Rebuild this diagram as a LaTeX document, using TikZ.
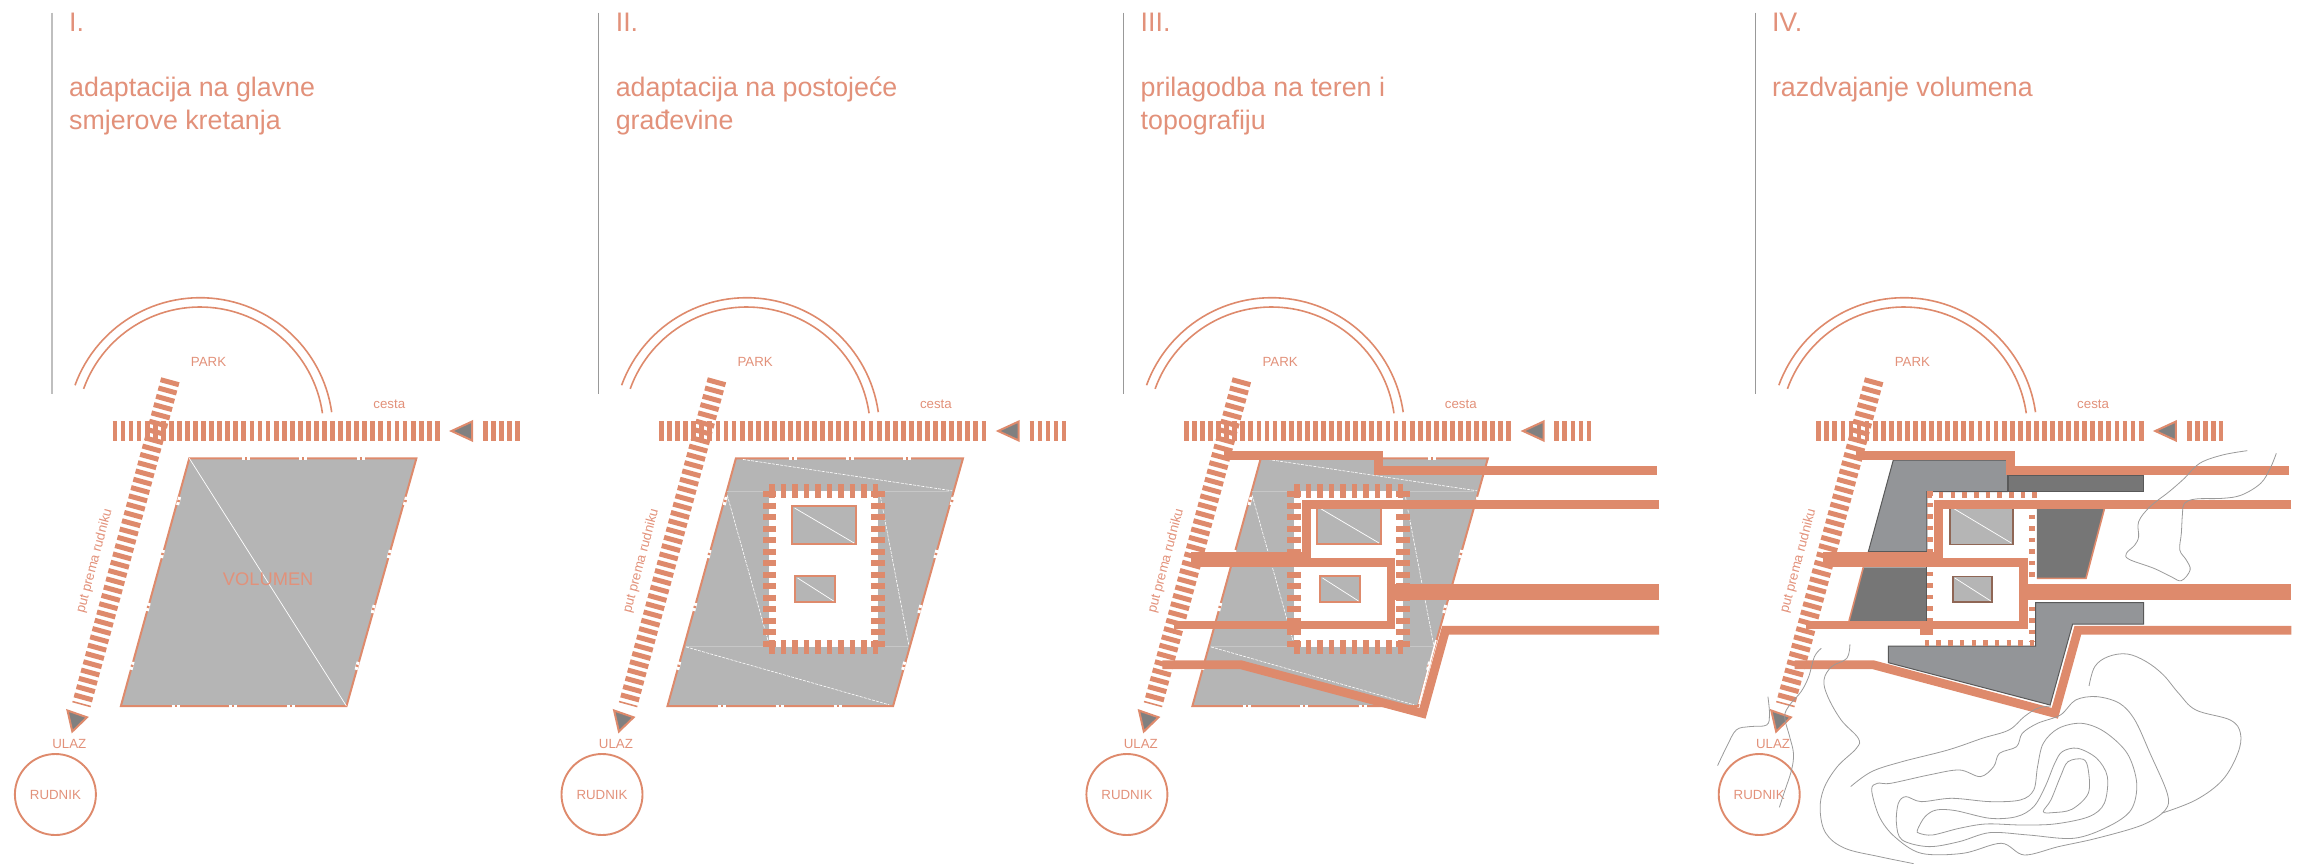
\documentclass[tikz,border=0pt]{standalone}
\usepackage{fontspec}
\setmainfont{Liberation Sans}
\definecolor{sal}{HTML}{DE8A6C}
\definecolor{saltx}{HTML}{E2917A}
\definecolor{gfill}{HTML}{B5B5B5}
\definecolor{gdark}{HTML}{767676}
\definecolor{gmid}{HTML}{939598}
\definecolor{gtip}{HTML}{808080}
\definecolor{gbrd}{HTML}{8F6655}
\definecolor{cont}{HTML}{9A9A9A}
\tikzset{
  ttl/.style={anchor=base west,align=left,text=saltx,font=\fontsize{26.8}{33}\selectfont,inner sep=0pt},
  lbl/.style={text=saltx,font=\fontsize{13.3}{15}\selectfont,inner sep=0pt},
  roadh/.style={sal,line width=20.5pt,dash pattern=on 4.8pt off 3.26pt},
  roadd/.style={sal,line width=19pt,dash pattern=on 5pt off 3.6pt},
  tip/.style={fill=gtip,draw=sal,line width=2pt,line join=miter},
  arcl/.style={sal,line width=1.6pt},
  vlnA/.style={draw=black!25,line width=1.6pt},
  vln/.style={draw=black!40,line width=.9pt},
  plane/.style={fill=gfill,draw=sal,line width=2pt,line join=miter},
  gap/.style={white,line width=3pt},
  pip/.style={sal,line width=2.6pt},
  wdash/.style={white,line width=.6pt,dash pattern=on 3pt off 1.2pt},
  faint/.style={black!22,line width=.7pt},
  ringw/.style={sal,line width=13.5pt,dash pattern=on 6pt off 5.5pt},
  ringt/.style={sal,line width=14pt,dash pattern=on 5.3pt off 6.2pt},
  ringn/.style={sal,line width=6pt,dash pattern=on 4.5pt off 7pt},
  roomA/.style={fill=gfill,draw=sal,line width=2pt},
  roomB/.style={fill=gfill,draw=gbrd,line width=1.6pt},
  wl/.style={white,line width=.7pt},
  tw/.style={sal,line join=miter},
  vmass/.style={fill=gmid,draw=black!65,line width=1pt,line join=miter},
  dmass/.style={fill=gdark},
  hill/.style={cont,line width=.8pt},
}
% common site: suffix
\newcommand{\sitebase}[1]{%
  \draw[arcl] plot[domain=8:160,samples=60] ({200+133*cos(\x)},{430.7-133*sin(\x)});
  \draw[arcl] plot[domain=8.1:160.2,samples=60] ({200+123.7*cos(\x)},{430.7-123.7*sin(\x)});
  \node[lbl] (park#1) at (208.6,362) {PARK};
  \node[lbl] (cesta#1) at (389.3,404.5) {cesta};
  \node[lbl,rotate=75.1] (put#1) at (94.6,561.3) {put prema rudniku};
  \node[lbl] (ulaz#1) at (69.3,743.9) {ULAZ};
  \draw[roadh] (112.5,431) -- (442.9,431);
  \draw[roadh] (482.9,431) -- (519.5,431);
  \draw[roadd] (170.4,379.8) -- (81.4,704.8);
  \draw[tip] (451.5,431) -- (472.1,421.5) -- (472.1,440.5) -- cycle;
  \draw[tip] (67.5,710.5) -- (87,717.3) -- (72.3,731.5) -- cycle;
  \node[circle,draw=sal,line width=1.9pt,minimum size=81pt,inner sep=0pt,lbl] (rud#1) at (55.4,794.5) {RUDNIK};
}
\newcommand{\siteplane}{%
  \draw[plane] (189.3,458.3) -- (416.4,458.3) -- (346.5,706) -- (120.9,706) -- cycle;
  \foreach \p in {246.4,302.9,360.7}{\draw[gap] (\p-4,458.3) -- (\p+4,458.3);\draw[pip] (\p-1,458.3) -- (\p+1,458.3);}
  \foreach \p in {175.7,232.9,291}{\draw[gap] (\p-4,706) -- (\p+4,706);\draw[pip] (\p-1,706) -- (\p+1,706);}
  \foreach \a/\b in {178.6/501,162.5/554,148.2/607,132.1/665.8,405.4/501,389.3/554,373.2/609,357.1/665.8}
    {\draw[gap] (\a+1,\b-4) -- (\a-1,\b+4);\draw[pip] (\a+.3,\b-1) -- (\a-.3,\b+1);}
}
\newcommand{\planelines}{%
  \draw[faint] (180,491.6) -- (402.5,491.6);
  \draw[faint] (139.8,646.5) -- (361.5,646.5);
  \draw[wdash] (196.2,459.4) -- (405.6,490.8);
  \draw[wdash] (180.7,495.4) -- (222.1,643.1);
  \draw[wdash] (334,497.3) -- (362.2,645);
  \draw[wdash] (139.4,646.9) -- (342.6,704.8);
}
\newcommand{\ringwide}{%
  \fill[white] (222.7,491.2) rectangle (331.4,646.7);
  \draw[ringw] (222.7,491.3) -- (222.7,647);
  \draw[ringw] (331.4,491.3) -- (331.4,647);
  \draw[ringt] (222.75,491.2) -- (331.6,491.2);
  \draw[ringt] (222.75,646.7) -- (331.6,646.7);
}
\newcommand{\roomsA}{%
  \draw[roomA] (245.8,506) rectangle (309.2,544.2);
  \draw[wl] (248,508) -- (307.5,543);
  \draw[roomA] (248.7,576) rectangle (288.4,601.8);
  \draw[wl] (251,578) -- (287,601);
}
\newcommand{\thickroutes}{%
  \draw[tw,line width=9pt] (152,455.5) -- (307,455.5) -- (307,470.3) -- (585.6,470.3);
  \draw[tw,line width=9pt] (587.5,504.5) -- (234.8,504.5) -- (234.8,560);
  \draw[tw,line width=15pt] (119.5,559.2) -- (234,559.2);
  \draw[tw,line width=8.4pt] (228,562.3) -- (319.6,562.3) -- (319.6,625.2) -- (102.3,625.2);
  \draw[tw,line width=16pt] (315.4,592.3) -- (587.5,592.3);
  \draw[tw,line width=8.8pt] (90.8,664.7) -- (169.2,664.7) -- (351,713.3) -- (374,630.3) -- (587.5,630.3);
}
\begin{document}
\begin{tikzpicture}[x=1pt,y=-1pt]
\useasboundingbox (0,0) rectangle (2298,864);

% ---------- I
\begin{scope}
  \draw[vlnA] (52,12.7) -- (52,394);
  \sitebase{a}
  \siteplane
  \draw[wl] (189.3,458.3) -- (346.4,706);
  \node[text=saltx,font=\fontsize{18.3}{20}\selectfont,inner sep=0pt] (vol) at (268.2,579.5) {VOLUMEN};
  \node[ttl] (n1a) at (69,32) {I.};
  \node[ttl] (t1a) at (69,129.5) {adaptacija na glavne\\smjerove kretanja};
\end{scope}

% ---------- II
\begin{scope}[shift={(546.6,0)}]
  \draw[vln] (52,12.7) -- (52,394);
  \sitebase{b}
  \siteplane
  \planelines
  \ringwide
  \roomsA
  \node[ttl] (n1b) at (69,32) {II.};
  \node[ttl] (t1b) at (69,129.5) {adaptacija na postojeće\\građevine};
\end{scope}

% ---------- III
\begin{scope}[shift={(1071.5,0)}]
  \draw[vln] (52,12.7) -- (52,394);
  \sitebase{c}
  \siteplane
  \planelines
  \ringwide
  \roomsA
  \draw[white,line width=1.6pt] (364.5,640) -- (347.5,704);
  \thickroutes
  \node[ttl] (n1c) at (69,32) {III.};
  \node[ttl] (t1c) at (69,129.5) {prilagodba na teren i\\topografiju};
\end{scope}

% ---------- IV
\begin{scope}[shift={(1703.8,0)}]
  \draw[vln] (52,12.7) -- (52,394);
  \sitebase{d}
  \draw[vmass] (189.5,460) -- (303.8,460) -- (303.8,491.7) -- (223,491.7) -- (223,551.7) -- (164.5,551.7) -- cycle;
  \draw[dmass,draw=black!65,line width=.8pt] (304.4,475) rectangle (439.8,491.7);
  \fill[dmass] (333,509) -- (400.5,509) -- (382.2,578.3) -- (333,578.3) -- cycle;
  \draw[sal,line width=1.6pt] (400.5,509) -- (382.2,578.3) -- (333,578.3);
  \fill[dmass] (159.5,567.3) -- (222.8,567.3) -- (222.8,621) -- (145.2,621) -- cycle;
  \draw[sal,line width=1.6pt] (159.5,567.3) -- (145.2,621);
  \draw[black!65,line width=.8pt] (222.8,567.3) -- (222.8,621);
  \draw[vmass] (331.8,602.7) -- (439.8,602.7) -- (439.8,624) -- (368.8,624) -- (346.3,705) -- (184.6,662.7) -- (184.6,646) -- (331.8,646) -- cycle;
  % thin ring
  \draw[ringn] (226.5,491.3) -- (226.5,640);
  \draw[ringn] (328.5,503) -- (328.5,642);
  \draw[sal,line width=6pt,dash pattern=on 4.5pt off 7.17pt] (223.5,494.5) -- (337.5,494.5);
  \draw[sal,line width=6pt,dash pattern=on 4.5pt off 7.17pt] (221,643) -- (331,643);
  \fill[sal] (216.6,629.3) rectangle (228.8,635);
  % rooms
  \draw[roomB] (246.4,506) rectangle (309,544.3);
  \draw[wl] (249,508) -- (307.5,543);
  \draw[roomB] (249,576.3) rectangle (288.3,601.7);
  \draw[wl] (251,578) -- (287,601);
  \thickroutes
  \node[ttl] (n1d) at (68,32) {IV.};
  \node[ttl] (t1d) at (68,96.5) {razdvajanje volumena};
\end{scope}

% contours
\begin{scope}[shift={(1700,400)},x=.3814pt,y=-.3333pt]
  \draw[hill] plot[smooth,tension=.6] coordinates {(1435,152)(1370,165)(1310,190)(1270,235)(1230,275)(1180,320)(1150,365)(1150,410)(1140,435)(1118,460)(1125,478)(1190,505)(1235,530)(1262,542)(1285,510)(1275,480)(1258,450)(1262,400)(1265,340)(1270,310)(1300,297)(1370,295)(1420,285)(1470,250)(1495,205)(1511,160)};
  \draw[hill] plot[smooth,tension=.6] coordinates {(318,745)(300,770)(285,830)(265,875)(235,915)(222,950)(235,1010)(245,1060)(240,1110)(220,1180)(208,1222)};
  \draw[hill] plot[smooth,tension=.6] coordinates {(178,890)(182,940)(175,975)(130,980)(95,990)(70,1040)(46,1097)};
  \draw[hill] plot[smooth,tension=.6] coordinates {(393,733)(385,775)(345,800)(325,840)(335,890)(370,960)(415,1015)(410,1045)(360,1100)(325,1165)(315,1230)(330,1300)(380,1345)(470,1370)(560,1391)};
  \draw[hill] plot[smooth,tension=.6] coordinates {(395,1160)(450,1115)(530,1085)(650,1050)(740,1015)(810,990)(850,950)(885,925)(920,918)};
  \draw[hill] plot[smooth,tension=.6] coordinates {(1020,858)(1035,800)(1070,770)(1120,762)(1170,785)(1215,825)(1255,880)(1300,930)(1390,960)(1417,1000)(1410,1060)(1370,1140)(1300,1200)(1210,1240)};
  \draw[hill] plot[smooth cycle,tension=.55] coordinates {(465,1150)(500,1150)(600,1125)(680,1110)(735,1130)(770,1100)(785,1060)(830,1040)(845,1000)(885,970)(945,945)(985,900)(1040,890)(1100,910)(1140,960)(1180,1060)(1225,1180)(1220,1230)(1160,1275)(1040,1315)(940,1340)(850,1365)(790,1330)(690,1360)(580,1360)(510,1310)(470,1250)(450,1170)};
  \draw[hill] plot[smooth cycle,tension=.55] coordinates {(540,1190)(520,1210)(515,1270)(530,1320)(600,1340)(680,1325)(760,1298)(860,1305)(980,1315)(1070,1280)(1130,1230)(1145,1150)(1120,1060)(1060,995)(1000,970)(940,985)(900,1030)(885,1100)(875,1170)(840,1200)(760,1205)(660,1195)(580,1205)};
  \draw[hill] plot[smooth cycle,tension=.55] coordinates {(570,1290)(590,1250)(620,1230)(670,1232)(760,1255)(830,1250)(875,1220)(905,1160)(930,1090)(950,1055)(990,1045)(1040,1075)(1068,1130)(1060,1210)(1020,1250)(930,1272)(840,1275)(750,1272)(680,1285)(610,1305)(575,1300)};
  \draw[hill] plot[smooth cycle,tension=.55] coordinates {(900,1235)(920,1200)(945,1130)(965,1085)(1005,1078)(1018,1110)(1018,1180)(975,1228)(925,1238)};
\end{scope}
\end{tikzpicture}
\end{document}
